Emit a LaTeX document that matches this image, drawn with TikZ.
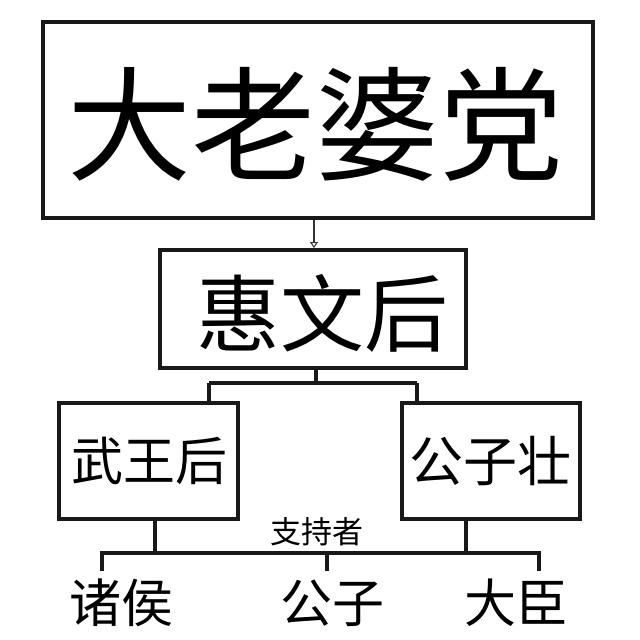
\documentclass[tikz,border=0pt]{standalone}
\usepackage{fontspec}
\newfontfamily\cjk{Noto Sans CJK SC}
\usetikzlibrary{arrows.meta}
\begin{document}
\begin{tikzpicture}[x=1pt,y=-1pt,
  box/.style={draw=black!90,line width=4pt,inner sep=0pt,font=\cjk},
  conn/.style={line width=3.5pt,black!90},
  thinarrow/.style={line width=1.2pt,black!80,-{Triangle[open,length=6pt,width=8pt,line width=1pt]}},
  lab/.style={font=\cjk,inner sep=0pt}]
\useasboundingbox (0,0) rectangle (640,640);
\fill[white] (0,0) rectangle (640,640);
% boxes
\node[box,minimum width=550pt,minimum height=196pt] (top) at (318,120) {};
\node[lab,font=\cjk\fontsize{124}{126}\selectfont] (toptxt) at (315,124) {大老婆党};
\node[box,minimum width=306pt,minimum height=118pt] (mid) at (313,309) {};
\node[lab,font=\cjk\fontsize{84}{90}\selectfont] (midtxt) at (322,313) {惠文后};
\node[box,minimum width=179pt,minimum height=116pt] (lbox) at (148.5,461) {};
\node[lab,font=\cjk\fontsize{52}{60}\selectfont] (ltxt) at (149,461) {武王后};
\node[box,minimum width=178pt,minimum height=116pt] (rbox) at (491,461) {};
\node[lab,font=\cjk\fontsize{54}{60}\selectfont] (rtxt) at (490,461) {公子壮};
% arrow top -> mid
\draw[thinarrow] (top.south -| 314,0) -- (mid.north -| 314,0);
% mid -> children
\coordinate (j) at (316,383);
\coordinate (jl) at (209,383);
\coordinate (jr) at (417,383);
\draw[conn] (mid.south -| j) -- (j);
\draw[conn] (jl) -- (jr);
\draw[conn] (jl) -- (jl |- lbox.north);
\draw[conn] (jr) -- (jr |- rbox.north);
% supporters
\coordinate (bl) at (102,553);
\coordinate (br) at (539,553);
\coordinate (bm) at (327,553);
\draw[conn] (lbox.south -| 155,0) -- (bl -| 155,0);
\draw[conn] (rbox.south -| 466,0) -- (br -| 466,0);
\draw[conn] ([xshift=-1.75pt]bl) -- ([xshift=1.75pt]br);
\coordinate (tl) at (102,571);
\coordinate (tm) at (327,571);
\coordinate (tr) at (539,571);
\draw[conn] (bl) -- (tl);
\draw[conn] (bm) -- (tm);
\draw[conn] (br) -- (tr);
\node[lab,font=\cjk\fontsize{31}{34}\selectfont] (sup) at (317,532) {支持者};
\node[lab,font=\cjk\fontsize{52}{56}\selectfont] (a) at (121,603) {诸侯};
\node[lab,font=\cjk\fontsize{52}{56}\selectfont] (b) at (332,603) {公子};
\node[lab,font=\cjk\fontsize{52}{56}\selectfont] (c) at (516,603) {大臣};
\end{tikzpicture}
\end{document}
